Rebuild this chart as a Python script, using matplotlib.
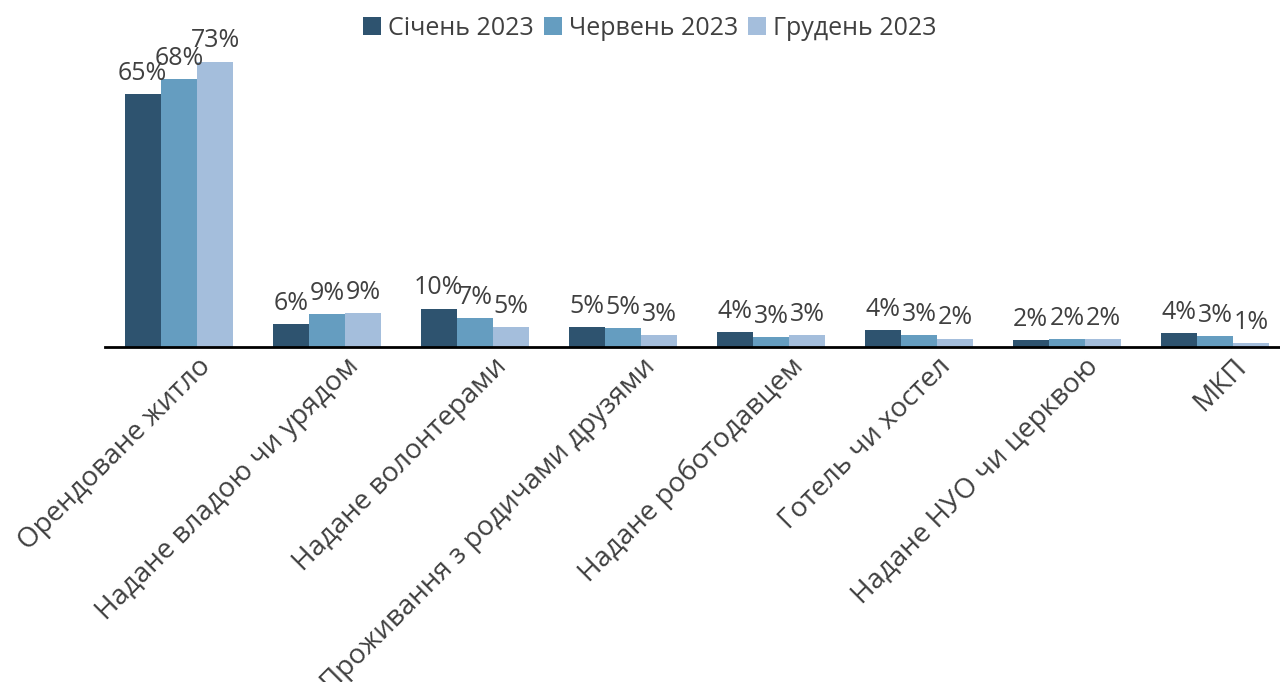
import numpy as np
import matplotlib.pyplot as plt
import matplotlib.transforms as mtransforms

categories = ['Орендоване житло', 'Надане владою чи урядом', 'Надане волонтерами',
              'Проживання з родичами друзями', 'Надане роботодавцем', 'Готель чи хостел',
              'Надане НУО чи церквою', 'МКП']
series = ['Січень 2023', 'Червень 2023', 'Грудень 2023']
jan = [64.9, 5.9, 9.8, 5.1, 3.8, 4.4, 1.8, 3.6]
jun = [68.7, 8.5, 7.4, 4.9, 2.6, 3.1, 2.0, 2.8]
dec = [73.2, 8.7, 5.1, 3.1, 3.1, 2.1, 2.0, 1.0]
labels_jan = ['65%', '6%', '10%', '5%', '4%', '4%', '2%', '4%']
labels_jun = ['68%', '9%', '7%', '5%', '3%', '3%', '2%', '3%']
labels_dec = ['73%', '9%', '5%', '3%', '3%', '2%', '2%', '1%']
colors = ['#2E536F', '#659DC0', '#A4BEDC']

plt.rcParams['font.family'] = ['Open Sans', 'DejaVu Sans']
txt = '#404040'

fig = plt.figure(figsize=(12.8, 6.82), dpi=100)
ax = fig.add_axes([105 / 1280, 1 - 347 / 682, 1184 / 1280, 312 / 682])

x = np.arange(len(categories))
w = 0.245
for i, (vals, labs) in enumerate(zip([jan, jun, dec], [labels_jan, labels_jun, labels_dec])):
    bars = ax.bar(x + (i - 1) * w, vals, w, color=colors[i], label=series[i])
    ax.bar_label(bars, labels=labs, padding=6, fontsize=18, color=txt)

ax.set_xlim(-0.5, len(categories) - 0.5)
ax.set_ylim(0, 80)
ax.set_yticks([])
for s in ['top', 'right', 'left']:
    ax.spines[s].set_visible(False)
ax.spines['bottom'].set_linewidth(2)
ax.spines['bottom'].set_color('black')

ax.set_xticks(x)
ax.set_xticklabels(categories, rotation=45, ha='right', va='top',
                   rotation_mode='anchor', fontsize=20, color=txt)
ax.tick_params(axis='x', length=0, pad=4)
offset = mtransforms.ScaledTranslation(18 / 100, 0, fig.dpi_scale_trans)
for lab in ax.get_xticklabels():
    lab.set_transform(lab.get_transform() + offset)

fig.legend(loc='upper center', bbox_to_anchor=(0.508, 1.01), ncol=3, frameon=False,
           fontsize=18, labelcolor=txt, handlelength=0.7, handleheight=0.7,
           handletextpad=0.3, columnspacing=0.4)

fig.savefig('out.png', dpi=100)
